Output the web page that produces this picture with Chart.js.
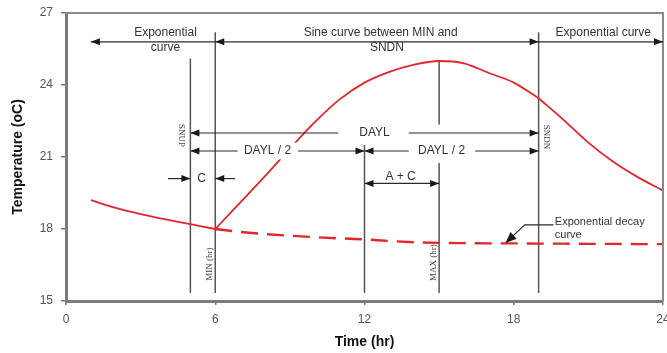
<!DOCTYPE html>
<html>
<head>
<meta charset="utf-8">
<script src="https://cdn.jsdelivr.net/npm/chart.js@4.4.1/dist/chart.umd.min.js"></script>
<style>
  html, body { margin: 0; padding: 0; background: #fff; }
  canvas { display: block; }
</style>
</head>
<body>
<canvas id="chart" width="667" height="353"></canvas>
<script>
// Axis ticks
const xTicks = [0, 6, 12, 18, 24];
const yTicks = [15, 18, 21, 24, 27];

// Night-time exponential cooling before sunrise
const nightHours = [1, 2, 3, 4, 5, 6];
const nightTemps = [19.2, 18.88, 18.62, 18.4, 18.2, 18.0];

// Daytime sine curve between MIN and SNDN
const dayHours = [6, 7, 8, 9, 10, 11, 12, 13, 14, 15, 16, 17, 18, 19];
const dayTemps = [18.0, 19.1, 20.2, 21.35, 22.45, 23.4, 24.1, 24.55, 24.85, 25.0, 24.9, 24.5, 24.1, 23.45];

// Evening exponential decay after sunset
const eveningHours = [19, 20, 21, 22, 23, 24];
const eveningTemps = [23.45, 22.55, 21.6, 20.8, 20.15, 19.6];

// Continuation of the exponential decay (dashed)
const decayHours = [6, 7, 8, 9, 10, 11, 12, 13, 14, 15, 16, 17, 18, 19, 20, 21, 22, 23, 24];
const decayTemps = [18.0, 17.88, 17.79, 17.72, 17.66, 17.61, 17.57, 17.5, 17.45, 17.42, 17.41, 17.4, 17.4, 17.39, 17.39, 17.38, 17.38, 17.37, 17.37];

// Vertical markers: SNUP, MIN, noon, MAX, SNDN
const markerHours = [5, 6, 12, 15, 19];
const markerTops = [25.1, 26.2, 21.5, 25.0, 26.2];
const markerBottom = 15.33;

// Dimension arrows (hours / temperature), head at "to", optionally also at "from"
const arrows = [
  { from: 6, to: 1, at: 25.8, both: false },
  { from: 6, to: 19, at: 25.8, both: true },
  { from: 19, to: 24, at: 25.8, both: false },
  { from: 5, to: 19, at: 22.0, both: true, gap: [10.95, 13.78] },
  { from: 5, to: 12, at: 21.25, both: true, gap: [6.9, 9.33] },
  { from: 12, to: 19, at: 21.25, both: true, gap: [13.78, 16.45] },
  { from: 4.1, to: 5, at: 20.1, both: false },
  { from: 6.8, to: 6, at: 20.1, both: false },
  { from: 12, to: 15, at: 19.9, both: true }
];

// White backing behind some labels (hour range, temperature range)
const labelBacks = [
  { h: [7.0, 9.3], t: [20.9, 21.6] },
  { h: [14.0, 16.3], t: [20.75, 22.35] }
];

// Horizontal labels
const labels = [
  { text: 'Exponential', h: 4.0, t: 26.17, size: 12, align: 'center' },
  { text: 'curve', h: 4.0, t: 25.54, size: 12, align: 'center' },
  { text: 'Sine curve between MIN and', h: 12.65, t: 26.17, size: 12, align: 'center' },
  { text: 'SNDN', h: 12.9, t: 25.54, size: 12, align: 'center' },
  { text: 'Exponential curve', h: 21.6, t: 26.17, size: 12, align: 'center' },
  { text: 'DAYL', h: 12.4, t: 22.0, size: 12, align: 'center' },
  { text: 'DAYL / 2', h: 8.1, t: 21.25, size: 12, align: 'center' },
  { text: 'DAYL / 2', h: 15.1, t: 21.25, size: 12, align: 'center' },
  { text: 'C', h: 5.45, t: 20.1, size: 12, align: 'center' },
  { text: 'A + C', h: 13.45, t: 20.17, size: 12, align: 'center' },
  { text: 'Exponential decay', h: 19.65, t: 18.3, size: 11, align: 'left' },
  { text: 'curve', h: 19.65, t: 17.77, size: 11, align: 'left' }
];

// Rotated marker names
const markerNames = [
  { text: 'SNUP', h: 4.62, t: 21.9, rot: Math.PI / 2 },
  { text: 'SNDN', h: 19.32, t: 21.83, rot: Math.PI / 2 },
  { text: 'MIN (hr)', h: 5.77, t: 16.54, rot: -Math.PI / 2 },
  { text: 'MAX (hr)', h: 14.79, t: 16.6, rot: -Math.PI / 2 }
];

// Callout pointing at the decay curve
const calloutPath = [[19.6, 18.17], [18.44, 18.17], [17.67, 17.42]];

const RED = '#e3262e';
const pts = (hs, ts) => hs.map((h, i) => ({ x: h, y: ts[i] }));
const curve = { cubicInterpolationMode: 'monotone', order: 0 };

const datasets = [
  { ...curve, data: pts(nightHours, nightTemps), borderColor: RED, borderWidth: 1.8 },
  { ...curve, data: pts(dayHours, dayTemps), borderColor: RED, borderWidth: 1.8 },
  { ...curve, data: pts(eveningHours, eveningTemps), borderColor: RED, borderWidth: 1.8 },
  { ...curve, data: pts(decayHours, decayTemps), borderColor: RED, borderWidth: 2.4, borderDash: [17, 9] }
];
markerHours.forEach((h, i) => {
  datasets.push({
    data: [{ x: h, y: markerBottom }, { x: h, y: markerTops[i] }],
    borderColor: '#555', borderWidth: 1.5, order: 1
  });
});

function arrowHead(ctx, x1, y1, x2, y2, len, w) {
  const a = Math.atan2(y2 - y1, x2 - x1);
  const bx = x2 - len * Math.cos(a), by = y2 - len * Math.sin(a);
  ctx.beginPath();
  ctx.moveTo(x2, y2);
  ctx.lineTo(bx + w * Math.sin(a), by - w * Math.cos(a));
  ctx.lineTo(bx - w * Math.sin(a), by + w * Math.cos(a));
  ctx.closePath();
  ctx.fill();
}

const annotate = {
  id: 'annotate',
  afterDatasetsDraw(chart) {
    const { ctx, chartArea: a } = chart;
    const X = v => chart.scales.x.getPixelForValue(v);
    const Y = v => chart.scales.y.getPixelForValue(v);
    ctx.save();

    // top and right frame
    ctx.strokeStyle = '#8a8a8a';
    ctx.lineWidth = 2;
    ctx.beginPath();
    ctx.moveTo(a.left, a.top);
    ctx.lineTo(a.right, a.top);
    ctx.lineTo(a.right, a.bottom);
    ctx.stroke();

    // white label backings
    ctx.fillStyle = '#fff';
    labelBacks.forEach(b => {
      const x0 = X(b.h[0]), x1 = X(b.h[1]), y0 = Y(b.t[1]), y1 = Y(b.t[0]);
      ctx.fillRect(x0, y0, x1 - x0, y1 - y0);
    });

    // dimension arrows
    ctx.strokeStyle = '#2a2a2a';
    ctx.fillStyle = '#1a1a1a';
    ctx.lineWidth = 1.2;
    arrows.forEach(ar => {
      const y = Y(ar.at), x1 = X(ar.from), x2 = X(ar.to);
      ctx.beginPath();
      if (ar.gap) {
        const lo = Math.min(x1, x2), hi = Math.max(x1, x2);
        ctx.moveTo(lo, y); ctx.lineTo(X(ar.gap[0]), y);
        ctx.moveTo(X(ar.gap[1]), y); ctx.lineTo(hi, y);
      } else {
        ctx.moveTo(x1, y); ctx.lineTo(x2, y);
      }
      ctx.stroke();
      arrowHead(ctx, x1, y, x2, y, 9, 3.5);
      if (ar.both) arrowHead(ctx, x2, y, x1, y, 9, 3.5);
    });

    // callout
    ctx.beginPath();
    calloutPath.forEach((p, i) => {
      const px = X(p[0]), py = Y(p[1]);
      if (i === 0) ctx.moveTo(px, py); else ctx.lineTo(px, py);
    });
    ctx.stroke();
    const n = calloutPath.length;
    arrowHead(ctx, X(calloutPath[n - 2][0]), Y(calloutPath[n - 2][1]),
      X(calloutPath[n - 1][0]), Y(calloutPath[n - 1][1]), 11, 4.5);

    // labels
    ctx.fillStyle = '#333';
    ctx.textBaseline = 'middle';
    labels.forEach(l => {
      ctx.font = l.size + 'px "Liberation Sans", Arial, sans-serif';
      ctx.textAlign = l.align;
      ctx.fillText(l.text, X(l.h), Y(l.t));
    });

    // rotated marker names
    ctx.fillStyle = '#444';
    ctx.font = '9px "Liberation Serif", "Times New Roman", serif';
    ctx.textAlign = 'center';
    markerNames.forEach(m => {
      ctx.save();
      ctx.translate(X(m.h), Y(m.t));
      ctx.rotate(m.rot);
      ctx.fillText(m.text, 0, 0);
      ctx.restore();
    });

    ctx.restore();
  }
};

const tickFont = { family: '"Liberation Sans", Arial, sans-serif', size: 12 };
const titleFont = { family: '"Liberation Sans", Arial, sans-serif', size: 14, weight: 'bold' };

new Chart(document.getElementById('chart'), {
  type: 'scatter',
  data: { datasets },
  options: {
    responsive: false,
    animation: false,
    devicePixelRatio: 1,
    events: [],
    datasets: { scatter: { showLine: true, pointRadius: 0, tension: 0, fill: false } },
    layout: { padding: { top: 13, right: 4, left: 0, bottom: 0 }, autoPadding: false },
    plugins: { legend: { display: false }, tooltip: { enabled: false } },
    scales: {
      x: {
        type: 'linear', min: 0, max: 24,
        afterBuildTicks: s => { s.ticks = xTicks.map(v => ({ value: v })); },
        afterFit: s => { s.height = 52; s.paddingLeft = 0; s.paddingRight = 0; },
        ticks: { color: '#555', font: tickFont, padding: 7, maxRotation: 0, autoSkip: false },
        grid: { drawOnChartArea: false, drawTicks: true, tickLength: 4, color: '#777', lineWidth: 1.5 },
        border: { display: true, color: '#7b7b7b', width: 3 },
        title: { display: true, text: 'Time (hr)', color: '#111', font: titleFont, padding: { top: 0, bottom: 2 } }
      },
      y: {
        type: 'linear', min: 15, max: 27,
        afterBuildTicks: s => { s.ticks = yTicks.map(v => ({ value: v })); },
        afterFit: s => { s.width = 66; s.paddingTop = 0; s.paddingBottom = 0; },
        ticks: { color: '#555', font: tickFont, padding: 8, autoSkip: false },
        grid: { drawOnChartArea: false, drawTicks: true, tickLength: 5, color: '#777', lineWidth: 1.5 },
        border: { display: true, color: '#7b7b7b', width: 3 },
        title: { display: true, text: 'Temperature (oC)', color: '#111', font: titleFont, padding: { top: 10, bottom: 0 } }
      }
    }
  },
  plugins: [annotate]
});
</script>
</body>
</html>
